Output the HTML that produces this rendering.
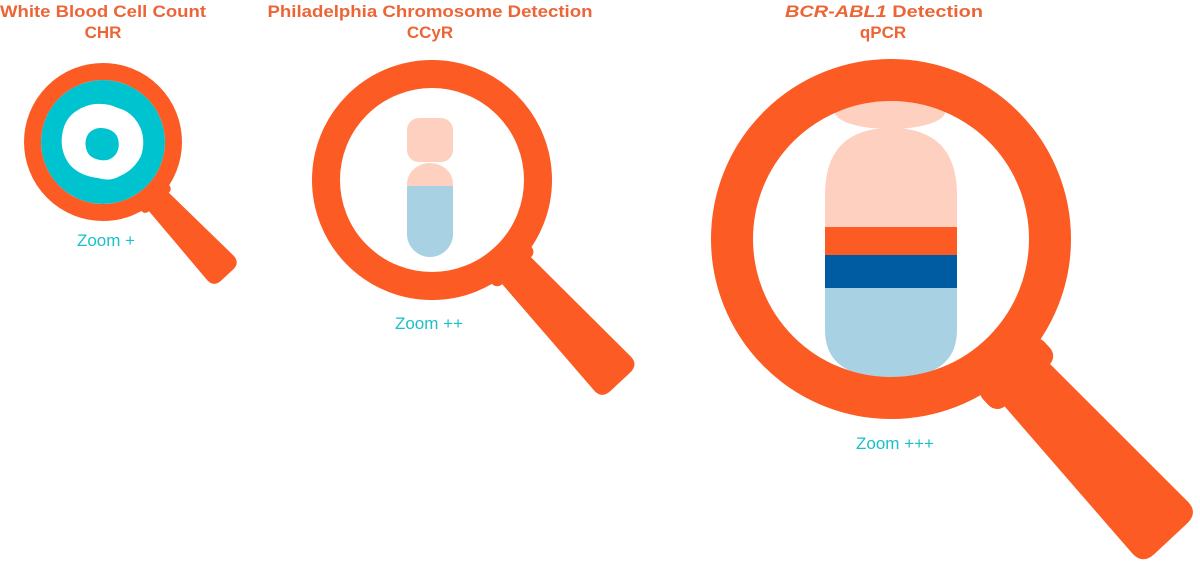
<!DOCTYPE html>
<html><head><meta charset="utf-8"><style>
html,body{margin:0;padding:0;background:#fff;}
svg{display:block}
.t{font-family:"Liberation Sans",Arial,sans-serif;font-weight:bold;font-size:17px;fill:#ec6536;}
.z{font-family:"Liberation Sans",Arial,sans-serif;font-size:17px;fill:#1bbfc9;}
</style></head><body>
<svg width="1200" height="572" viewBox="0 0 1200 572" xmlns="http://www.w3.org/2000/svg">
<defs>
<clipPath id="c2"><circle cx="432" cy="180" r="93"/></clipPath>
<clipPath id="c3"><circle cx="891" cy="239" r="138"/></clipPath>
</defs>
<g fill="#fc5b23">
<g transform="translate(103,142) rotate(47)">
<path d="M70,-13 L172,-18 Q182,-18 182,-8 L182,8 Q182,18 172,18 L70,13 Z"/>
<rect x="68" y="-19" width="14" height="38" rx="5"/>
</g>
<g transform="translate(432,180) rotate(47)">
<path d="M105,-19 L265,-25 Q276,-25 276,-13 L276,13 Q276,25 265,25 L105,19 Z"/>
<rect x="104" y="-27" width="20" height="54" rx="7"/>
</g>
<g transform="translate(891,239) rotate(47)">
<path d="M170,-30 L395,-38 Q410,-38 410,-22 L410,22 Q410,38 395,38 L170,30 Z"/>
<rect x="168" y="-42" width="32" height="84" rx="12"/>
</g>
</g>
<circle cx="103" cy="142" r="62" fill="#00c3d0"/>
<circle cx="103" cy="142" r="70.5" fill="none" stroke="#fc5b23" stroke-width="17"/>
<path d="M95,104 Q108,103 118,108 Q133,112 140,127 Q146,140 141,156 Q134,170 120,176 Q110,182 98,178 Q80,176 70,165 Q60,152 62,136 Q64,118 78,110 Q86,105 95,104 Z" fill="#fff"/>
<path d="M100,128 Q112,128 117,136 Q121,146 116,154 Q110,162 100,160 Q88,158 86,148 Q84,138 90,132 Q95,128 100,128 Z" fill="#00c3d0"/>
<g clip-path="url(#c2)">
<rect x="407" y="118" width="46" height="44" rx="12" fill="#fdd0c0"/>
<path d="M407,186 L407,234 A23,23 0 0 0 453,234 L453,186 Z" fill="#a8d1e3"/>
<path d="M407,186 L407,184 A23,21 0 0 1 453,184 L453,186 Z" fill="#fdd0c0"/>
</g>
<circle cx="432" cy="180" r="106" fill="none" stroke="#fc5b23" stroke-width="28"/>
<g clip-path="url(#c3)">
<ellipse cx="890" cy="112" rx="55" ry="17" fill="#fdd0c0"/>
<path d="M825,228 L825,195 Q825,128 891,128 Q957,128 957,195 L957,228 Z" fill="#fdd0c0"/>
<rect x="825" y="227" width="132" height="29" fill="#fc5b23"/>
<rect x="825" y="255" width="132" height="34" fill="#005ca2"/>
<path d="M825,288 L825,330 Q825,378 891,378 Q957,378 957,330 L957,288 Z" fill="#a8d1e3"/>
</g>
<circle cx="891" cy="239" r="159" fill="none" stroke="#fc5b23" stroke-width="42"/>
<text class="t" x="103" y="17" text-anchor="middle" textLength="206" lengthAdjust="spacingAndGlyphs">White Blood Cell Count</text>
<text class="t" x="103" y="38" text-anchor="middle">CHR</text>
<text class="t" x="430" y="17" text-anchor="middle" textLength="325" lengthAdjust="spacingAndGlyphs">Philadelphia Chromosome Detection</text>
<text class="t" x="430" y="38" text-anchor="middle">CCyR</text>
<text class="t" x="884" y="17" text-anchor="middle" textLength="198" lengthAdjust="spacingAndGlyphs"><tspan font-style="italic">BCR-ABL1</tspan> Detection</text>
<text class="t" x="883" y="38" text-anchor="middle">qPCR</text>
<text class="z" x="106" y="246" text-anchor="middle">Zoom +</text>
<text class="z" x="429" y="329" text-anchor="middle">Zoom ++</text>
<text class="z" x="895" y="449" text-anchor="middle">Zoom +++</text>
</svg>
</body></html>
